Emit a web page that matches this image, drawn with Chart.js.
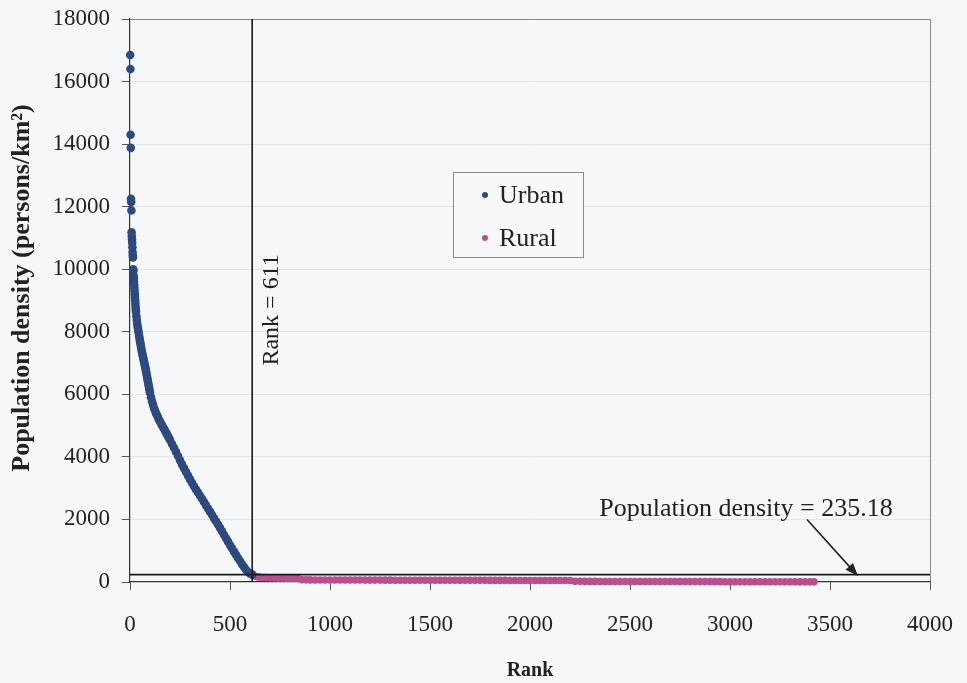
<!DOCTYPE html>
<html>
<head>
<meta charset="utf-8">
<script src="https://cdn.jsdelivr.net/npm/chart.js@4.4.0/dist/chart.umd.min.js"></script>
<style>
    html, body { margin: 0; padding: 0; background: #f6f7f9; }
    #wrap { width: 967px; height: 683px; }
</style>
</head>
<body>
<div id="wrap"><canvas id="myChart" width="967" height="683"></canvas></div>
<script>
// Urban areas (rank -> density)
const urbanRank = [
    1, 2, 3, 4, 5, 6, 7, 8, 9, 10, 11, 12, 13, 14, 15, 16, 17, 18, 19, 20,
    21, 22, 23, 24, 25, 26, 27, 28, 29, 30,
    32, 34, 36, 38, 40, 42, 44, 46, 48, 50,
    52, 54, 56, 58, 60, 62, 64, 66, 68, 70,
    72, 74, 76, 78, 80, 82, 84, 86, 88, 90,
    92, 94, 96, 98, 100,
    105, 110, 115, 120, 125, 130, 135, 140, 145, 150,
    155, 160, 165, 170, 175, 180, 185, 190, 195,
    200, 210, 220, 230, 240, 250, 260, 270, 280, 290,
    300, 310, 320, 330, 340, 350, 360, 370, 380, 390,
    400, 410, 420, 430, 440, 450, 460, 470, 480, 490,
    500, 510, 520, 530, 540, 550, 560, 570, 580, 590,
    600, 610, 611
];
const urbanDensity = [
    16850, 16400, 14300, 13880, 12250, 12150, 11880, 11180, 11050, 10950, 10850, 10700, 10550, 10450, 10380, 10000, 9950, 9800, 9700, 9600,
    9500, 9400, 9300, 9200, 9100, 9000, 8900, 8800, 8720, 8640,
    8500, 8380, 8260, 8170, 8100, 8020, 7940, 7860, 7780, 7700,
    7630, 7560, 7490, 7420, 7350, 7290, 7230, 7170, 7110, 7050,
    6990, 6930, 6870, 6810, 6750, 6680, 6610, 6540, 6470, 6400,
    6330, 6260, 6190, 6120, 6050,
    5910, 5780, 5670, 5560, 5480, 5400, 5330, 5260, 5190, 5130,
    5070, 5010, 4955, 4900, 4840, 4780, 4720, 4660, 4600,
    4540, 4410, 4290, 4160, 4030, 3890, 3760, 3640, 3520, 3400,
    3280, 3170, 3060, 2960, 2860, 2760, 2660, 2560, 2450, 2350,
    2250, 2150, 2040, 1940, 1840, 1730, 1620, 1510, 1400, 1290,
    1180, 1080, 970, 870, 770, 670, 570, 480, 390, 320,
    270, 240, 235
];

// Rural areas
const ruralRank = [
    612, 620, 630, 640, 650, 665, 680, 700, 720, 740, 760, 780, 800, 820, 840, 860, 880,
    900, 925, 950, 975, 1000, 1025, 1050, 1075, 1100, 1125,
    1150, 1175, 1200, 1225, 1250, 1275, 1300, 1325, 1350, 1375,
    1400, 1425, 1450, 1475, 1500, 1525, 1550, 1575, 1600, 1625,
    1650, 1675, 1700, 1725, 1750, 1775, 1800, 1825, 1850, 1875,
    1900, 1925, 1950, 1975, 2000, 2025, 2050, 2075, 2100, 2125,
    2150, 2175, 2200,
    2225, 2250, 2275, 2300, 2325, 2350, 2375, 2400, 2425, 2450,
    2475, 2500, 2525, 2550, 2575, 2600, 2625, 2650, 2675, 2700,
    2725, 2750, 2775, 2800, 2825, 2850, 2875, 2900, 2925, 2950,
    2975, 3000, 3025, 3050, 3075, 3100, 3125, 3150, 3175, 3200,
    3225, 3250, 3275, 3300, 3325, 3350, 3375, 3400, 3420
];
const ruralDensity = [
    230, 200, 175, 160, 150, 145, 140, 136, 132, 128, 124, 120, 116, 112, 108, 72, 69,
    67, 66, 66, 65, 65, 64, 64, 63, 63, 62,
    62, 61, 61, 60, 60, 59, 59, 58, 58, 57,
    57, 56, 56, 56, 55, 55, 55, 54, 54, 54,
    53, 53, 53, 52, 52, 52, 51, 51, 51, 51,
    50, 50, 50, 50, 49, 49, 49, 49, 48, 48,
    48, 48, 47,
    20, 20, 19, 19, 19, 18, 18, 18, 17, 17,
    17, 16, 16, 16, 15, 15, 15, 14, 14, 14,
    14, 13, 13, 13, 12, 12, 12, 11, 11, 11,
    10, 10, 10, 9, 9, 9, 8, 8, 8, 7,
    7, 7, 6, 6, 6, 5, 5, 5, 4
];

const xTicks = [0, 500, 1000, 1500, 2000, 2500, 3000, 3500, 4000];
const yTicks = [0, 2000, 4000, 6000, 8000, 10000, 12000, 14000, 16000, 18000];

const rankCut = 611;
const densityCut = 235.18;
const yTitle = 'Population density (persons/km²)';

const serif = "'Liberation Serif', 'Times New Roman', serif";
Chart.defaults.font.family = serif;
Chart.defaults.color = '#222';

// y title, legend box, labels and arrow
const notesPlugin = {
    id: 'notes',
    afterDatasetsDraw(chart) {
        const { ctx, chartArea, scales: { x, y } } = chart;
        ctx.save();
        ctx.fillStyle = '#222';
        ctx.textAlign = 'center';
        ctx.textBaseline = 'middle';

        // y axis title (drawn here so it can sit a bit above centre like the original)
        ctx.save();
        ctx.font = 'bold 26px ' + serif;
        ctx.translate(22, y.getPixelForValue(9400));
        ctx.rotate(-Math.PI / 2);
        ctx.fillText(yTitle, 0, 0);
        ctx.restore();

        // "Rank = 611" rotated next to the vertical line
        ctx.save();
        ctx.font = '24px ' + serif;
        ctx.translate(x.getPixelForValue(rankCut) + 20, y.getPixelForValue(8700));
        ctx.rotate(-Math.PI / 2);
        ctx.fillText('Rank = ' + rankCut, 0, 0);
        ctx.restore();

        // population density label + arrow
        ctx.font = '26px ' + serif;
        ctx.fillText('Population density = ' + densityCut, x.getPixelForValue(3080), y.getPixelForValue(2340));

        const x0 = x.getPixelForValue(3385), y0 = y.getPixelForValue(2000);
        const x1 = x.getPixelForValue(3640), y1 = y.getPixelForValue(190);
        const ang = Math.atan2(y1 - y0, x1 - x0);
        ctx.strokeStyle = '#222';
        ctx.lineWidth = 1.6;
        ctx.beginPath();
        ctx.moveTo(x0, y0);
        ctx.lineTo(x1 - 8 * Math.cos(ang), y1 - 8 * Math.sin(ang));
        ctx.stroke();
        ctx.beginPath();
        ctx.moveTo(x1, y1);
        ctx.lineTo(x1 - 13 * Math.cos(ang) + 5 * Math.sin(ang), y1 - 13 * Math.sin(ang) - 5 * Math.cos(ang));
        ctx.lineTo(x1 - 13 * Math.cos(ang) - 5 * Math.sin(ang), y1 - 13 * Math.sin(ang) + 5 * Math.cos(ang));
        ctx.closePath();
        ctx.fill();

        // legend
        const bx = chartArea.left + 323, by = chartArea.top + 153;
        ctx.fillStyle = '#f7f8fa';
        ctx.fillRect(bx, by, 130, 85);
        ctx.strokeStyle = '#8a8a8a';
        ctx.lineWidth = 1;
        ctx.strokeRect(bx + 0.5, by + 0.5, 130, 85);
        ctx.font = '26px ' + serif;
        ctx.textAlign = 'left';
        chart.data.datasets.slice(0, 2).forEach((ds, i) => {
            const ly = by + 23 + i * 43;
            ctx.fillStyle = ds.backgroundColor;
            ctx.beginPath();
            ctx.arc(bx + 32, ly, 3, 0, Math.PI * 2);
            ctx.fill();
            ctx.fillStyle = '#222';
            ctx.fillText(ds.label, bx + 46, ly + 1);
        });
        ctx.restore();
    }
};

const ctx = document.getElementById('myChart').getContext('2d');
new Chart(ctx, {
    type: 'scatter',
    data: {
        datasets: [{
            label: 'Urban',
            data: urbanRank.map((r, i) => ({ x: r, y: urbanDensity[i] })),
            backgroundColor: '#2d4a80',
            borderColor: '#2d4a80',
            borderWidth: 0,
            pointRadius: 4.3,
            clip: 6,
            order: 2
        }, {
            label: 'Rural',
            data: ruralRank.map((r, i) => ({ x: r, y: ruralDensity[i] })),
            backgroundColor: '#b8508f',
            borderColor: '#b8508f',
            borderWidth: 0,
            pointRadius: 3.8,
            clip: 6,
            order: 2
        }, {
            label: 'rank cut',
            data: [{ x: rankCut, y: 0 }, { x: rankCut, y: 18000 }],
            showLine: true,
            borderColor: '#1a1a1a',
            borderWidth: 1.6,
            pointRadius: 0,
            order: 1
        }, {
            label: 'density cut',
            data: [{ x: 0, y: densityCut }, { x: 4000, y: densityCut }],
            showLine: true,
            borderColor: '#1a1a1a',
            borderWidth: 1.6,
            pointRadius: 0,
            order: 1
        }]
    },
    options: {
        responsive: false,
        animation: false,
        devicePixelRatio: 1,
        layout: {
            padding: { top: 19, right: 37, left: 0, bottom: 0 }
        },
        plugins: {
            legend: { display: false },
            tooltip: { enabled: false }
        },
        scales: {
            x: {
                type: 'linear',
                min: 0,
                max: 4000,
                afterBuildTicks: s => { s.ticks = xTicks.map(v => ({ value: v })); },
                afterFit: s => { s.height = 101; s.paddingLeft = 0; s.paddingRight = 0; },
                ticks: {
                    font: { size: 23 },
                    color: '#222',
                    padding: 21,
                    callback: v => String(v)
                },
                grid: {
                    color: c => (c.tick && c.tick.value === 4000) ? '#8a8a8a' : 'rgba(0,0,0,0)',
                    tickColor: '#555',
                    tickLength: 8
                },
                border: { color: '#333', width: 1.2 },
                title: {
                    display: true,
                    text: 'Rank',
                    font: { size: 20, weight: 'bold' },
                    color: '#222',
                    padding: { top: 0, bottom: 0 }
                }
            },
            y: {
                min: 0,
                max: 18000,
                afterBuildTicks: s => { s.ticks = yTicks.map(v => ({ value: v })); },
                afterFit: s => { s.width = 130; s.paddingTop = 0; s.paddingBottom = 0; },
                ticks: {
                    font: { size: 23 },
                    color: '#222',
                    padding: 12,
                    callback: v => String(v)
                },
                grid: {
                    color: c => {
                        if (!c.tick) return 'rgba(0,0,0,0)';
                        if (c.tick.value === 18000) return '#8a8a8a';
                        if (c.tick.value === 0) return 'rgba(0,0,0,0)';
                        return '#e3e5e9';
                    },
                    tickColor: '#555',
                    tickLength: 8
                },
                border: { color: '#333', width: 1.2 },
                title: { display: false }
            }
        }
    },
    plugins: [notesPlugin]
});
</script>
</body>
</html>
